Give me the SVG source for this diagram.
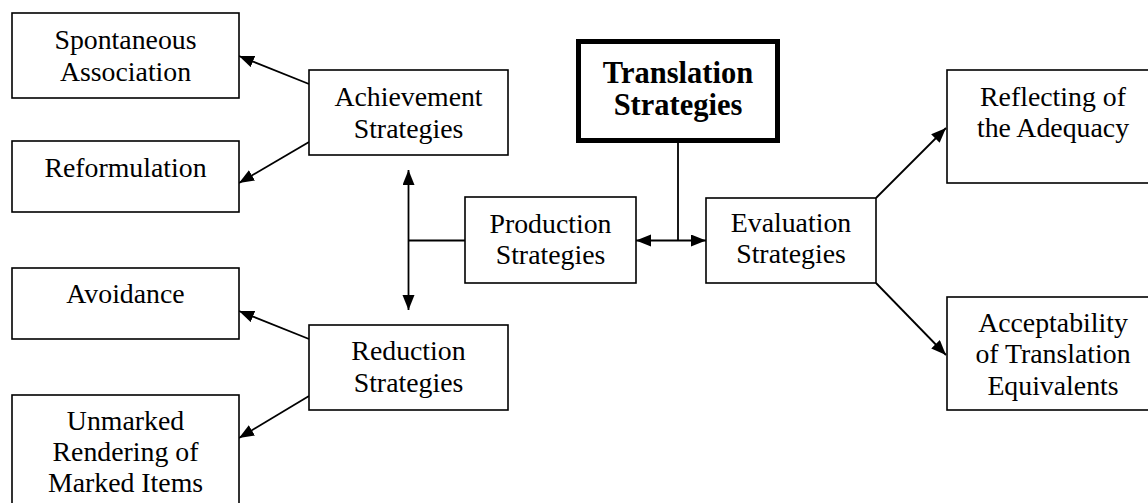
<svg xmlns="http://www.w3.org/2000/svg" width="1148" height="503" viewBox="0 0 1148 503">
  <style>
    .box { fill: #fff; stroke: #000; stroke-width: 1.6; }
    .main { fill: #fff; stroke: #000; stroke-width: 5; }
    .lbl { font-family: "Liberation Serif", "Times New Roman", serif; font-size: 27.8px; fill: #000; text-anchor: middle; }
    .bold { font-weight: bold; font-size: 30.5px; }
    .wire { fill: none; stroke: #000; stroke-width: 1.8; }
  </style>
  <defs>
    <marker id="head" markerUnits="userSpaceOnUse" markerWidth="16" markerHeight="13" refX="15" refY="6" orient="auto-start-reverse">
      <path d="M0,0 L15,6 L0,12 z" fill="#000"/>
    </marker>
  </defs>
  <rect width="1148" height="503" fill="#fff"/>

  <!-- connectors -->
  <g id="connectors" class="wire">
    <line x1="309" y1="84" x2="239" y2="56" marker-end="url(#head)"/>
    <line x1="309" y1="142" x2="239" y2="183" marker-end="url(#head)"/>
    <line x1="309" y1="339" x2="239" y2="311" marker-end="url(#head)"/>
    <line x1="309" y1="396" x2="239" y2="438" marker-end="url(#head)"/>
    <line x1="408.5" y1="170" x2="408.5" y2="310" marker-start="url(#head)" marker-end="url(#head)"/>
    <line x1="408.5" y1="240.5" x2="465" y2="240.5"/>
    <line x1="636" y1="240.5" x2="706" y2="240.5" marker-start="url(#head)" marker-end="url(#head)"/>
    <line x1="678" y1="143" x2="678" y2="240.5"/>
    <line x1="876" y1="198" x2="946" y2="128" marker-end="url(#head)"/>
    <line x1="876" y1="283" x2="946" y2="355" marker-end="url(#head)"/>
  </g>

  <!-- nodes -->
  <g id="spontaneous">
    <rect class="box" x="12" y="13" width="227" height="85"/>
    <text class="lbl" x="125.5" y="49">Spontaneous</text>
    <text class="lbl" x="125.5" y="81">Association</text>
  </g>
  <g id="reformulation">
    <rect class="box" x="12" y="141" width="227" height="71"/>
    <text class="lbl" x="125.5" y="177">Reformulation</text>
  </g>
  <g id="avoidance">
    <rect class="box" x="12" y="268" width="227" height="71"/>
    <text class="lbl" x="125.5" y="303">Avoidance</text>
  </g>
  <g id="unmarked">
    <rect class="box" x="12" y="395" width="227" height="120"/>
    <text class="lbl" x="125.5" y="430">Unmarked</text>
    <text class="lbl" x="125.5" y="461">Rendering of</text>
    <text class="lbl" x="125.5" y="492">Marked Items</text>
  </g>
  <g id="achievement">
    <rect class="box" x="309" y="70" width="199" height="85"/>
    <text class="lbl" x="408.5" y="106">Achievement</text>
    <text class="lbl" x="408.5" y="138">Strategies</text>
  </g>
  <g id="reduction">
    <rect class="box" x="309" y="325" width="199" height="85"/>
    <text class="lbl" x="408.5" y="360">Reduction</text>
    <text class="lbl" x="408.5" y="392">Strategies</text>
  </g>
  <g id="production">
    <rect class="box" x="465" y="197" width="171" height="86"/>
    <text class="lbl" x="550.5" y="233">Production</text>
    <text class="lbl" x="550.5" y="264">Strategies</text>
  </g>
  <g id="translation">
    <rect class="main" x="578.5" y="41.5" width="199" height="99"/>
    <text class="lbl bold" x="678" y="83">Translation</text>
    <text class="lbl bold" x="678" y="115">Strategies</text>
  </g>
  <g id="evaluation">
    <rect class="box" x="706" y="198" width="170" height="85"/>
    <text class="lbl" x="791" y="232">Evaluation</text>
    <text class="lbl" x="791" y="263">Strategies</text>
  </g>
  <g id="reflecting">
    <rect class="box" x="947" y="70" width="220" height="113"/>
    <text class="lbl" x="1053" y="106">Reflecting of</text>
    <text class="lbl" x="1053" y="137">the Adequacy</text>
  </g>
  <g id="acceptability">
    <rect class="box" x="947" y="297" width="220" height="113"/>
    <text class="lbl" x="1053" y="332">Acceptability</text>
    <text class="lbl" x="1053" y="363">of Translation</text>
    <text class="lbl" x="1053" y="395">Equivalents</text>
  </g>
</svg>
